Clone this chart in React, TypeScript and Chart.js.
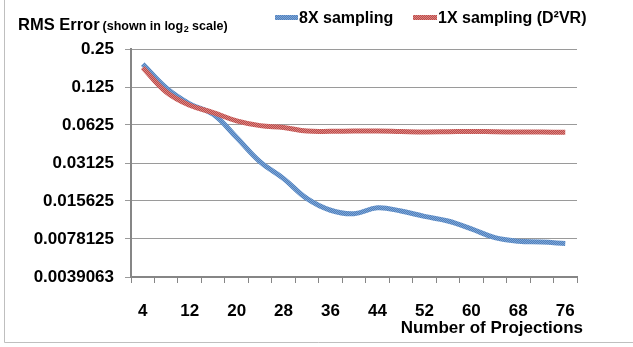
import React, { useEffect, useRef } from 'react';
import { Chart, registerables } from 'chart.js';

Chart.register(...registerables);

const projections = ['4', '8', '12', '16', '20', '24', '28', '32', '36', '40', '44', '48', '52', '56', '60', '64', '68', '72', '76'];
const sampling8x = [0.19, 0.123, 0.092, 0.076, 0.0497, 0.0319, 0.0235, 0.0163, 0.0132, 0.0124, 0.0138, 0.013, 0.0118, 0.01085, 0.0094, 0.008, 0.0075, 0.0074, 0.0072];
const sampling1x = [0.178, 0.114, 0.0895, 0.0785, 0.0674, 0.0618, 0.0597, 0.056, 0.0557, 0.056, 0.056, 0.0555, 0.0551, 0.0553, 0.0556, 0.0552, 0.055, 0.0549, 0.0548];
const yTickValues = [0.00390625, 0.0078125, 0.015625, 0.03125, 0.0625, 0.125, 0.25];
const yTickLabels = ['0.0039063', '0.0078125', '0.015625', '0.03125', '0.0625', '0.125', '0.25'];
const seriesNames = ['8X sampling', '1X sampling (D²VR)'];
const titleMain = 'RMS Error';
const titleSubParts = ['(shown in log', '2', ' scale)'];
const xAxisTitle = 'Number of Projections';

const FONT = '"Liberation Sans", Arial, sans-serif';

function makePattern(base: string, light: string): CanvasPattern | string {
  const c = document.createElement('canvas');
  c.width = 2;
  c.height = 2;
  const g = c.getContext('2d');
  if (!g) return base;
  g.fillStyle = base;
  g.fillRect(0, 0, 2, 2);
  g.fillStyle = light;
  g.fillRect(0, 0, 1, 1);
  g.fillRect(1, 1, 1, 1);
  const p = g.createPattern(c, 'repeat');
  return p || base;
}

export default function App() {
  const ref = useRef<HTMLCanvasElement | null>(null);

  useEffect(() => {
    const canvas = ref.current;
    if (!canvas) return;
    const bluePat = makePattern('#4F81BD', '#7FA5D6');
    const redPat = makePattern('#BE4B48', '#D98583');

    const decor = {
      id: 'decor',
      afterDraw(chart: any) {
        const ctx = chart.ctx as CanvasRenderingContext2D;
        ctx.save();
        // outer frame
        ctx.strokeStyle = '#bfbfbf';
        ctx.lineWidth = 1;
        ctx.beginPath();
        ctx.moveTo(4.5, 0);
        ctx.lineTo(4.5, 342.5);
        ctx.lineTo(633, 342.5);
        ctx.stroke();

        ctx.fillStyle = '#000';
        ctx.textBaseline = 'alphabetic';
        ctx.textAlign = 'left';
        // title
        ctx.font = `bold 16.5px ${FONT}`;
        ctx.fillText(titleMain, 18, 29.5);
        let x = 18 + ctx.measureText(titleMain).width + 3;
        ctx.font = `bold 12.5px ${FONT}`;
        ctx.fillText(titleSubParts[0], x, 29.5);
        x += ctx.measureText(titleSubParts[0]).width + 0.5;
        ctx.font = `bold 9px ${FONT}`;
        ctx.fillText(titleSubParts[1], x, 32);
        x += ctx.measureText(titleSubParts[1]).width;
        ctx.font = `bold 12.5px ${FONT}`;
        ctx.fillText(titleSubParts[2], x, 29.5);

        // legend
        ctx.fillStyle = bluePat as any;
        ctx.fillRect(275, 15, 23, 5);
        ctx.fillStyle = redPat as any;
        ctx.fillRect(413, 15, 24, 5);
        ctx.fillStyle = '#000';
        ctx.font = `bold 16px ${FONT}`;
        ctx.fillText(seriesNames[0], 299, 23);
        ctx.fillText(seriesNames[1], 438, 23);

        // x axis title
        ctx.font = `bold 17px ${FONT}`;
        ctx.textAlign = 'right';
        ctx.fillText(xAxisTitle, 583, 333);
        ctx.restore();
      },
    };

    const chart = new Chart(canvas, {
      type: 'line',
      data: {
        labels: projections,
        datasets: [
          {
            label: seriesNames[0],
            data: sampling8x,
            borderColor: bluePat as any,
            borderWidth: 5,
            pointRadius: 0,
            tension: 0.4,
            fill: false,
            order: 1,
          },
          {
            label: seriesNames[1],
            data: sampling1x,
            borderColor: redPat as any,
            borderWidth: 5,
            pointRadius: 0,
            tension: 0.4,
            fill: false,
            order: 0,
          },
        ],
      },
      options: {
        responsive: false,
        animation: false,
        devicePixelRatio: 1,
        layout: { padding: { top: 49, right: 56, left: 0, bottom: 0 } },
        plugins: { legend: { display: false }, tooltip: { enabled: false }, title: { display: false } },
        scales: {
          x: {
            type: 'category',
            offset: true,
            grid: { offset: true, drawOnChartArea: false, drawTicks: true, tickLength: 6, color: '#868686', lineWidth: 1 },
            border: { color: '#868686', width: 2 },
            ticks: {
              autoSkip: false,
              maxRotation: 0,
              padding: 18,
              color: '#000',
              font: { family: FONT, size: 17, weight: 'bold' },
              callback: (_v: any, i: number) => (i % 2 === 0 ? projections[i] : ''),
            },
            afterFit: (s: any) => {
              s.height = 70;
            },
          },
          y: {
            type: 'logarithmic',
            min: yTickValues[0],
            max: yTickValues[yTickValues.length - 1],
            afterBuildTicks: (s: any) => {
              s.ticks = yTickValues.map((v) => ({ value: v }));
            },
            grid: { color: '#9a9a9a', lineWidth: 1, tickLength: 6 },
            border: { color: '#868686', width: 2 },
            ticks: {
              padding: 11,
              color: '#000',
              font: { family: FONT, size: 17, weight: 'bold' },
              callback: (_v: any, i: number) => yTickLabels[i],
            },
            afterFit: (s: any) => {
              s.width = 131;
            },
          },
        },
      } as any,
      plugins: [decor],
    });
    return () => chart.destroy();
  }, []);

  return (
    <div style={{ position: 'absolute', left: 0, top: 0, width: 633, height: 347, background: '#fff' }}>
      <canvas ref={ref} width={633} height={347} style={{ display: 'block' }} />
    </div>
  );
}
